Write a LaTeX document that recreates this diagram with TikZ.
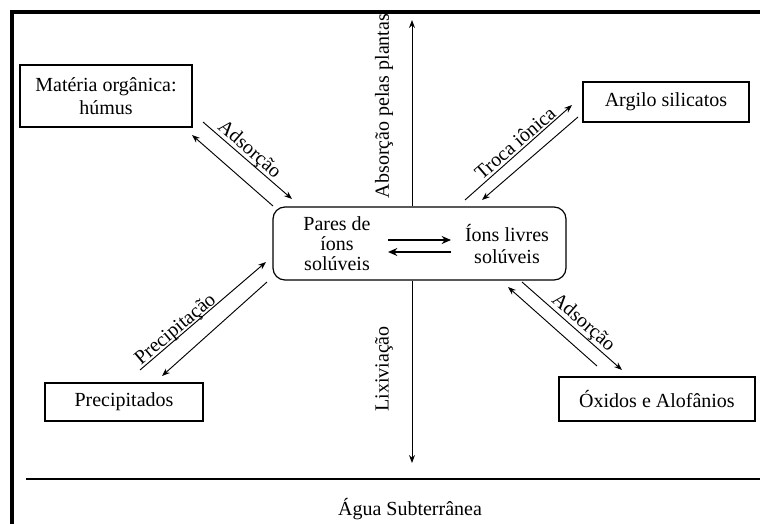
\documentclass[tikz,border=0pt]{standalone}
\usepackage{fontspec}
\setmainfont{Liberation Serif}
\usetikzlibrary{arrows.meta}

\tikzset{
	caixa/.style = {draw, line width = 0.9pt, align = center, inner sep = 0pt, fill = white},
	seta/.style = {line width = 0.7pt, -{Stealth[length = 6pt, width = 4.5pt]}},
	setagrossa/.style = {line width = 1.5pt, -{Stealth[length = 7pt, width = 6pt]}},
	rotulo/.style = {inner sep = 0pt},
}

\begin{document}
\begin{tikzpicture}[x = 0.75pt, y = -0.75pt, font = \fontsize{15}{17}\selectfont]
		\useasboundingbox (0,0) rectangle (760,524);
		% moldura
		\draw [line width = 2.6pt] (12,524) -- (12,12) -- (760,12);
		\draw [line width = 0.9pt] (26,479) -- (760,479);
		\node (agua) at (410,509) {Água Subterrânea};
		%
		\node (centro) [caixa, rounded corners = 9pt, minimum width = 219.75pt, minimum height = 54.75pt] at (419.5,243.5) {};
		\node (pares) [align = center, font = \fontsize{15}{15}\selectfont] at (337,244) {Pares de\\íons\\solúveis};
		\node (livres) [align = center] at (507,244) {Íons livres\\solúveis};
		\coordinate (p1) at (388,240);
		\coordinate (p2) at (451,240);
		\coordinate (p3) at (451,252);
		\coordinate (p4) at (388,252);
		\draw [setagrossa] (p1) -- (p2);
		\draw [setagrossa] (p3) -- (p4);
		%
		\node (materia) [caixa, minimum width = 129pt, minimum height = 46.5pt] at (106,96) {Matéria orgânica:\\húmus};
		\node (argilo) [caixa, minimum width = 124.5pt, minimum height = 30pt] at (666,102) {Argilo silicatos};
		\node (precip) [caixa, minimum width = 118.5pt, minimum height = 28.5pt] at (124,402) {Precipitados};
		\node (oxidos) [caixa, minimum width = 147pt, minimum height = 33pt] at (657,399) {Óxidos e Alofânios};
		%
		\coordinate (topo) at (412,20);
		\coordinate (fundo) at (412,463);
		\draw [seta] (centro.north -| topo) -- (topo);
		\draw [seta] (centro.south -| fundo) -- (fundo);
		\node (absorcao) [rotulo, rotate = 90] at (384,106) {Absorção pelas plantas};
		\node (lixiv) [rotulo, rotate = 90] at (384,369) {Lixiviação};
		%
		\coordinate (a1) at (203,122);
		\coordinate (b1) at (292,199);
		\coordinate (a2) at (273,206);
		\coordinate (b2) at (192,135);
		\draw [seta] (a1) -- (b1);
		\draw [seta] (a2) -- (b2);
		\node (ads1) [rotulo, rotate = -41] at (249,150) {Adsorção};
		%
		\coordinate (c1) at (465,200);
		\coordinate (d1) at (572,105);
		\coordinate (c2) at (578,117);
		\coordinate (d2) at (482,200);
		\draw [seta] (c1) -- (d1);
		\draw [seta] (c2) -- (d2);
		\node (troca) [rotulo, rotate = 41] at (515,143) {Troca iônica};
		%
		\coordinate (e1) at (140,370);
		\coordinate (f1) at (266,262);
		\coordinate (e2) at (267,282);
		\coordinate (f2) at (162,376);
		\draw [seta] (e1) -- (f1);
		\draw [seta] (e2) -- (f2);
		\node (precipitacao) [rotulo, rotate = 40] at (176,330) {Precipitação};
		%
		\coordinate (g1) at (522,282);
		\coordinate (h1) at (622,370);
		\coordinate (g2) at (597,366);
		\coordinate (h2) at (508,287);
		\draw [seta] (g1) -- (h1);
		\draw [seta] (g2) -- (h2);
		\node (ads2) [rotulo, rotate = -41] at (583,323) {Adsorção};
	\end{tikzpicture}
\end{document}
